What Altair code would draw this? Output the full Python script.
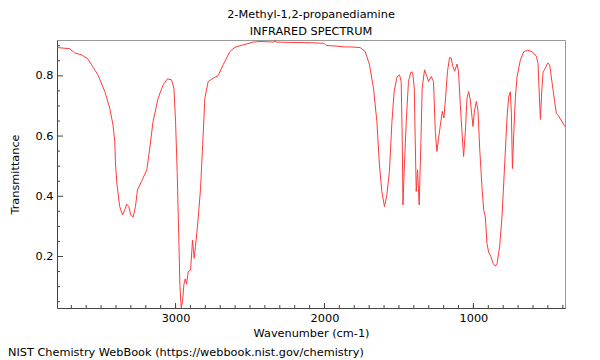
import altair as alt
import pandas as pd

# ---- data ----
wavenumber = [3794, 3711, 3677, 3632, 3588, 3521, 3475, 3442, 3420, 3408, 3403, 3393, 3375, 3356,
              3341, 3328, 3314, 3301, 3285, 3269, 3256, 3229, 3193, 3173, 3151, 3117, 3083, 3055,
              3027, 3011, 3000, 2989, 2978, 2971, 2962, 2953, 2944, 2935, 2926, 2915, 2899, 2886,
              2875, 2866, 2848, 2832, 2818, 2803, 2781, 2747, 2714, 2680, 2635, 2601, 2545, 2478,
              2433, 2379, 2339, 2332, 2325, 2231, 2096, 2003, 1989, 1929, 1862, 1828, 1761, 1727,
              1698, 1671, 1648, 1631, 1615, 1597, 1581, 1564, 1547, 1532, 1514, 1496, 1485, 1478,
              1473, 1465, 1451, 1436, 1420, 1408, 1397, 1391, 1384, 1375, 1364, 1352, 1344, 1328,
              1312, 1301, 1283, 1268, 1256, 1245, 1234, 1223, 1209, 1198, 1187, 1174, 1160, 1149,
              1138, 1126, 1110, 1100, 1088, 1077, 1066, 1054, 1043, 1032, 1021, 1003, 992, 980,
              969, 958, 942, 931, 920, 909, 898, 882, 868, 853, 841, 824, 808, 792, 774, 763, 752,
              745, 738, 730, 718, 707, 685, 662, 636, 606, 577, 566, 557, 550, 541, 532, 517, 501,
              488, 471, 456, 443, 427, 404, 385]
transmittance = [0.894, 0.890, 0.876, 0.870, 0.856, 0.803, 0.748, 0.693, 0.637, 0.582, 0.504, 0.438,
                 0.366, 0.338, 0.355, 0.374, 0.366, 0.338, 0.331, 0.366, 0.421, 0.449, 0.488, 0.560,
                 0.648, 0.726, 0.770, 0.790, 0.787, 0.759, 0.648, 0.482, 0.261, 0.106, 0.030, 0.050,
                 0.106, 0.126, 0.108, 0.150, 0.155, 0.255, 0.194, 0.233, 0.327, 0.427, 0.571, 0.726,
                 0.781, 0.792, 0.801, 0.837, 0.881, 0.895, 0.903, 0.912, 0.914, 0.913, 0.912, 0.918,
                 0.912, 0.911, 0.910, 0.908, 0.901, 0.899, 0.896, 0.896, 0.894, 0.881, 0.837, 0.759,
                 0.648, 0.504, 0.416, 0.366, 0.405, 0.482, 0.648, 0.748, 0.795, 0.803, 0.781, 0.593,
                 0.371, 0.482, 0.648, 0.781, 0.812, 0.812, 0.759, 0.593, 0.416, 0.488, 0.371, 0.593,
                 0.759, 0.820, 0.798, 0.781, 0.798, 0.781, 0.615, 0.549, 0.593, 0.632, 0.682, 0.660,
                 0.726, 0.815, 0.861, 0.859, 0.831, 0.815, 0.839, 0.815, 0.704, 0.615, 0.532, 0.615,
                 0.726, 0.748, 0.720, 0.632, 0.687, 0.715, 0.682, 0.560, 0.427, 0.354, 0.332, 0.243,
                 0.215, 0.199, 0.177, 0.168, 0.177, 0.232, 0.332, 0.487, 0.664, 0.730, 0.747, 0.675,
                 0.492, 0.597, 0.730, 0.797, 0.852, 0.880, 0.885, 0.880, 0.865, 0.841, 0.730, 0.655,
                 0.752, 0.813, 0.825, 0.843, 0.836, 0.775, 0.719, 0.675, 0.666, 0.647, 0.631]

x_labels = [1000, 2000, 3000]
x_minor = list(range(400, 3800, 100))
y_labels = [0.2, 0.4, 0.6, 0.8]
y_minor = [0.05, 0.1, 0.15, 0.25, 0.3, 0.35, 0.45, 0.5, 0.55, 0.65, 0.7, 0.75, 0.85, 0.9]

title_lines = ["2-Methyl-1,2-propanediamine", "INFRARED SPECTRUM"]
x_title = "Wavenumber (cm-1)"
y_title = "Transmittance"
footer = "NIST Chemistry WebBook (https://webbook.nist.gov/chemistry)"

# ---- chart ----
W, H = 508, 268
FONT = "DejaVu Sans"
FS = 11.3

spec = pd.DataFrame({"wn": wavenumber, "t": transmittance})
xscale = alt.Scale(domain=[3796, 385], nice=False, zero=False)
yscale = alt.Scale(domain=[0.029, 0.919], nice=False, zero=False)

xaxis = alt.Axis(values=x_labels, ticks=False, tickSize=0, grid=False, labelPadding=4,
                 labelFontSize=FS, labelFont=FONT, labelColor="#000", domainColor="#444",
                 format="d",
                 title=x_title, titleFont=FONT, titleFontSize=FS, titleFontWeight="normal",
                 titleColor="#000", titleX=W / 2, titleY=25, titleBaseline="middle",
                 titleAlign="center")
yaxis = alt.Axis(values=y_labels, ticks=False, tickSize=0, grid=False, labelPadding=4,
                 labelFontSize=FS, labelFont=FONT, labelColor="#000", domainColor="#444",
                 format=".1f",
                 title=y_title, titleFont=FONT, titleFontSize=FS, titleFontWeight="normal",
                 titleColor="#000", titleX=-42, titleY=H / 2, titleBaseline="middle",
                 titleAlign="center", titleAngle=-90)

line = alt.Chart(spec).mark_line(color="#ff3b3b", strokeWidth=1, clip=True).encode(
    x=alt.X("wn:Q", scale=xscale, axis=xaxis),
    y=alt.Y("t:Q", scale=yscale, axis=yaxis),
)

ymaj = alt.Chart(pd.DataFrame({"v": y_labels})).mark_rule(color="#444").encode(
    y=alt.Y("v:Q", scale=yscale, axis=yaxis), x=alt.value(0), x2=alt.value(6))
ymin = alt.Chart(pd.DataFrame({"v": y_minor})).mark_rule(color="#444").encode(
    y=alt.Y("v:Q", scale=yscale, axis=yaxis), x=alt.value(0), x2=alt.value(3))
xmaj = alt.Chart(pd.DataFrame({"v": x_labels})).mark_rule(color="#444").encode(
    x=alt.X("v:Q", scale=xscale, axis=xaxis), y=alt.value(H), y2=alt.value(H - 5))
xmin = alt.Chart(pd.DataFrame({"v": x_minor})).mark_rule(color="#444").encode(
    x=alt.X("v:Q", scale=xscale, axis=xaxis), y=alt.value(H), y2=alt.value(H - 3))

foot = alt.Chart(pd.DataFrame({"txt": [footer]})).mark_text(
    align="left", baseline="alphabetic", font=FONT, fontSize=FS, color="#000"
).encode(x=alt.value(-49), y=alt.value(316), text="txt:N")

chart = alt.layer(ymin, ymaj, xmin, xmaj, line, foot).properties(
    width=W, height=H,
    title=alt.TitleParams(title_lines, anchor="middle", font=FONT, fontSize=FS,
                          fontWeight="normal", color="#000", offset=3, lineHeight=17),
    autosize=alt.AutoSizeParams(type="none"),
    padding={"left": 49, "top": 32, "right": 27, "bottom": 52},
).configure_view(stroke="#999", strokeWidth=1)

chart.save("out.html", embed_options={"renderer": "svg", "actions": False})
